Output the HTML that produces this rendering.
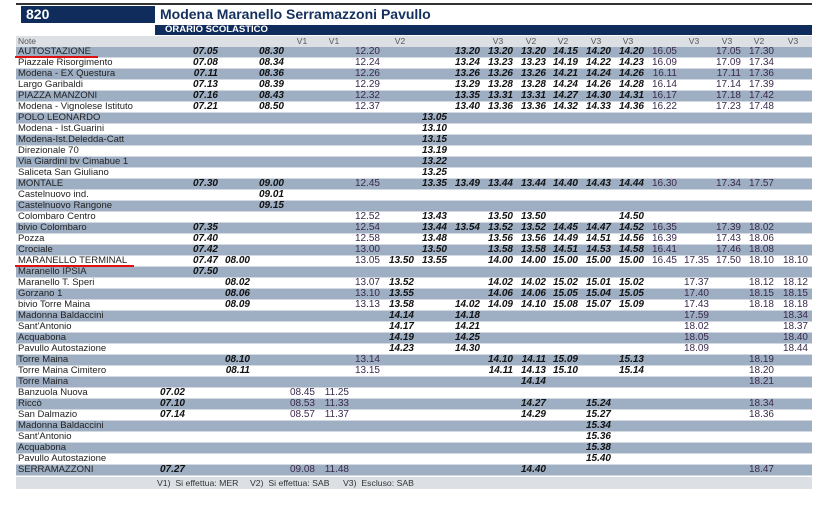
<!DOCTYPE html>
<html><head><meta charset="utf-8">
<style>
*{margin:0;padding:0;box-sizing:border-box}
html,body{width:820px;height:517px;background:#fff;overflow:hidden}
body{position:relative;font-family:"Liberation Sans",Arial,sans-serif}
.topline{position:absolute;left:16px;top:3px;width:796px;height:1.5px;background:#333}
.box{position:absolute;left:21px;top:6px;width:134px;height:17px;background:#0f2c5c;color:#fff;font-weight:bold;font-size:14px;line-height:17px;padding-left:5px}
.title{position:absolute;left:160px;top:4px;font-size:14px;font-weight:bold;color:#14305e;line-height:20px;white-space:nowrap}
.bar{position:absolute;left:155px;top:25px;width:657px;height:10px;background:#0f2c5c;color:#fff;font-weight:bold;font-size:9.5px;line-height:10px;padding-left:10px;white-space:nowrap}
.hdr{position:absolute;left:16px;top:36px;width:796px;height:10.5px;background:#dce0e5;font-size:8.5px;line-height:10.5px;color:#555}
.hdr span{position:absolute;top:0;width:20px;text-align:center}
.r{position:absolute;left:16px;width:796px;height:11px;border-bottom:1px solid #d3d9e1;font-size:10px;line-height:10.5px}
.s{background:#9eafc4}
.nm{position:absolute;left:2px;top:0;font-size:9.5px;color:#222;white-space:nowrap}
.r span.t{position:absolute;top:0;width:32px;text-align:right;white-space:nowrap}
.b{font-weight:bold;font-style:italic;color:#111}
.n{color:#3b2a4c}
.k0{left:137px}.k1{left:170px}.k2{left:202px}.k3{left:236px}.k4{left:267px}.k5{left:301px}
.k6{left:332px}.k7{left:366px}.k8{left:399px}.k9{left:432px}.k10{left:465px}.k11{left:498px}
.k12{left:530px}.k13{left:563px}.k14{left:596px}.k15{left:629px}.k16{left:661px}.k17{left:693px}
.k18{left:726px}.k19{left:760px}
.red{position:absolute;height:2px;background:#e01010}
.foot{position:absolute;left:16px;top:476.5px;width:796px;height:12.5px;background:#dce0e5;font-size:8.7px;line-height:12.5px;color:#333}
.foot span{position:absolute;top:0;white-space:nowrap}
</style></head><body>
<div class="topline"></div>
<div class="box">820</div>
<div class="title">Modena Maranello Serramazzoni Pavullo</div>
<div class="bar">ORARIO SCOLASTICO</div>
<div class="hdr"><span style="left:2px;width:auto;text-align:left">Note</span>
<span style="left:276px">V1</span><span style="left:308px">V1</span><span style="left:374px">V2</span><span style="left:472px">V3</span><span style="left:505px">V2</span><span style="left:537px">V2</span><span style="left:570px">V3</span><span style="left:602px">V3</span><span style="left:668px">V3</span><span style="left:701px">V3</span><span style="left:733px">V2</span><span style="left:767px">V3</span></div>

<div class="r s" style="top:46.5px"><span class="nm">AUTOSTAZIONE</span><span class="t b k1">07.05</span><span class="t b k3">08.30</span><span class="t n k6">12.20</span><span class="t b k9">13.20</span><span class="t b k10">13.20</span><span class="t b k11">13.20</span><span class="t b k12">14.15</span><span class="t b k13">14.20</span><span class="t b k14">14.20</span><span class="t n k15">16.05</span><span class="t n k17">17.05</span><span class="t n k18">17.30</span></div>
<div class="r" style="top:57.5px"><span class="nm">Piazzale Risorgimento</span><span class="t b k1">07.08</span><span class="t b k3">08.34</span><span class="t n k6">12.24</span><span class="t b k9">13.24</span><span class="t b k10">13.23</span><span class="t b k11">13.23</span><span class="t b k12">14.19</span><span class="t b k13">14.22</span><span class="t b k14">14.23</span><span class="t n k15">16.09</span><span class="t n k17">17.09</span><span class="t n k18">17.34</span></div>
<div class="r s" style="top:68.5px"><span class="nm">Modena - EX Questura</span><span class="t b k1">07.11</span><span class="t b k3">08.36</span><span class="t n k6">12.26</span><span class="t b k9">13.26</span><span class="t b k10">13.26</span><span class="t b k11">13.26</span><span class="t b k12">14.21</span><span class="t b k13">14.24</span><span class="t b k14">14.26</span><span class="t n k15">16.11</span><span class="t n k17">17.11</span><span class="t n k18">17.36</span></div>
<div class="r" style="top:79.5px"><span class="nm">Largo Garibaldi</span><span class="t b k1">07.13</span><span class="t b k3">08.39</span><span class="t n k6">12.29</span><span class="t b k9">13.29</span><span class="t b k10">13.28</span><span class="t b k11">13.28</span><span class="t b k12">14.24</span><span class="t b k13">14.26</span><span class="t b k14">14.28</span><span class="t n k15">16.14</span><span class="t n k17">17.14</span><span class="t n k18">17.39</span></div>
<div class="r s" style="top:90.5px"><span class="nm">PIAZZA MANZONI</span><span class="t b k1">07.16</span><span class="t b k3">08.43</span><span class="t n k6">12.32</span><span class="t b k9">13.35</span><span class="t b k10">13.31</span><span class="t b k11">13.31</span><span class="t b k12">14.27</span><span class="t b k13">14.30</span><span class="t b k14">14.31</span><span class="t n k15">16.17</span><span class="t n k17">17.18</span><span class="t n k18">17.42</span></div>
<div class="r" style="top:101.5px"><span class="nm">Modena - Vignolese Istituto</span><span class="t b k1">07.21</span><span class="t b k3">08.50</span><span class="t n k6">12.37</span><span class="t b k9">13.40</span><span class="t b k10">13.36</span><span class="t b k11">13.36</span><span class="t b k12">14.32</span><span class="t b k13">14.33</span><span class="t b k14">14.36</span><span class="t n k15">16.22</span><span class="t n k17">17.23</span><span class="t n k18">17.48</span></div>
<div class="r s" style="top:112.5px"><span class="nm">POLO LEONARDO</span><span class="t b k8">13.05</span></div>
<div class="r" style="top:123.5px"><span class="nm">Modena - Ist.Guarini</span><span class="t b k8">13.10</span></div>
<div class="r s" style="top:134.5px"><span class="nm">Modena-Ist.Deledda-Catt</span><span class="t b k8">13.15</span></div>
<div class="r" style="top:145.5px"><span class="nm">Direzionale 70</span><span class="t b k8">13.19</span></div>
<div class="r s" style="top:156.5px"><span class="nm">Via Giardini bv Cimabue 1</span><span class="t b k8">13.22</span></div>
<div class="r" style="top:167.5px"><span class="nm">Saliceta San Giuliano</span><span class="t b k8">13.25</span></div>
<div class="r s" style="top:178.5px"><span class="nm">MONTALE</span><span class="t b k1">07.30</span><span class="t b k3">09.00</span><span class="t n k6">12.45</span><span class="t b k8">13.35</span><span class="t b k9">13.49</span><span class="t b k10">13.44</span><span class="t b k11">13.44</span><span class="t b k12">14.40</span><span class="t b k13">14.43</span><span class="t b k14">14.44</span><span class="t n k15">16.30</span><span class="t n k17">17.34</span><span class="t n k18">17.57</span></div>
<div class="r" style="top:189.5px"><span class="nm">Castelnuovo ind.</span><span class="t b k3">09.01</span></div>
<div class="r s" style="top:200.5px"><span class="nm">Castelnuovo Rangone</span><span class="t b k3">09.15</span></div>
<div class="r" style="top:211.5px"><span class="nm">Colombaro Centro</span><span class="t n k6">12.52</span><span class="t b k8">13.43</span><span class="t b k10">13.50</span><span class="t b k11">13.50</span><span class="t b k14">14.50</span></div>
<div class="r s" style="top:222.5px"><span class="nm">bivio Colombaro</span><span class="t b k1">07.35</span><span class="t n k6">12.54</span><span class="t b k8">13.44</span><span class="t b k9">13.54</span><span class="t b k10">13.52</span><span class="t b k11">13.52</span><span class="t b k12">14.45</span><span class="t b k13">14.47</span><span class="t b k14">14.52</span><span class="t n k15">16.35</span><span class="t n k17">17.39</span><span class="t n k18">18.02</span></div>
<div class="r" style="top:233.5px"><span class="nm">Pozza</span><span class="t b k1">07.40</span><span class="t n k6">12.58</span><span class="t b k8">13.48</span><span class="t b k10">13.56</span><span class="t b k11">13.56</span><span class="t b k12">14.49</span><span class="t b k13">14.51</span><span class="t b k14">14.56</span><span class="t n k15">16.39</span><span class="t n k17">17.43</span><span class="t n k18">18.06</span></div>
<div class="r s" style="top:244.5px"><span class="nm">Crociale</span><span class="t b k1">07.42</span><span class="t n k6">13.00</span><span class="t b k8">13.50</span><span class="t b k10">13.58</span><span class="t b k11">13.58</span><span class="t b k12">14.51</span><span class="t b k13">14.53</span><span class="t b k14">14.58</span><span class="t n k15">16.41</span><span class="t n k17">17.46</span><span class="t n k18">18.08</span></div>
<div class="r" style="top:255.5px"><span class="nm">MARANELLO TERMINAL</span><span class="t b k1">07.47</span><span class="t b k2">08.00</span><span class="t n k6">13.05</span><span class="t b k7">13.50</span><span class="t b k8">13.55</span><span class="t b k10">14.00</span><span class="t b k11">14.00</span><span class="t b k12">15.00</span><span class="t b k13">15.00</span><span class="t b k14">15.00</span><span class="t n k15">16.45</span><span class="t n k16">17.35</span><span class="t n k17">17.50</span><span class="t n k18">18.10</span><span class="t n k19">18.10</span></div>
<div class="r s" style="top:266.5px"><span class="nm">Maranello IPSIA</span><span class="t b k1">07.50</span></div>
<div class="r" style="top:277.5px"><span class="nm">Maranello T. Speri</span><span class="t b k2">08.02</span><span class="t n k6">13.07</span><span class="t b k7">13.52</span><span class="t b k10">14.02</span><span class="t b k11">14.02</span><span class="t b k12">15.02</span><span class="t b k13">15.01</span><span class="t b k14">15.02</span><span class="t n k16">17.37</span><span class="t n k18">18.12</span><span class="t n k19">18.12</span></div>
<div class="r s" style="top:288.5px"><span class="nm">Gorzano 1</span><span class="t b k2">08.06</span><span class="t n k6">13.10</span><span class="t b k7">13.55</span><span class="t b k10">14.06</span><span class="t b k11">14.06</span><span class="t b k12">15.05</span><span class="t b k13">15.04</span><span class="t b k14">15.05</span><span class="t n k16">17.40</span><span class="t n k18">18.15</span><span class="t n k19">18.15</span></div>
<div class="r" style="top:299.5px"><span class="nm">bivio Torre Maina</span><span class="t b k2">08.09</span><span class="t n k6">13.13</span><span class="t b k7">13.58</span><span class="t b k9">14.02</span><span class="t b k10">14.09</span><span class="t b k11">14.10</span><span class="t b k12">15.08</span><span class="t b k13">15.07</span><span class="t b k14">15.09</span><span class="t n k16">17.43</span><span class="t n k18">18.18</span><span class="t n k19">18.18</span></div>
<div class="r s" style="top:310.5px"><span class="nm">Madonna Baldaccini</span><span class="t b k7">14.14</span><span class="t b k9">14.18</span><span class="t n k16">17.59</span><span class="t n k19">18.34</span></div>
<div class="r" style="top:321.5px"><span class="nm">Sant'Antonio</span><span class="t b k7">14.17</span><span class="t b k9">14.21</span><span class="t n k16">18.02</span><span class="t n k19">18.37</span></div>
<div class="r s" style="top:332.5px"><span class="nm">Acquabona</span><span class="t b k7">14.19</span><span class="t b k9">14.25</span><span class="t n k16">18.05</span><span class="t n k19">18.40</span></div>
<div class="r" style="top:343.5px"><span class="nm">Pavullo Autostazione</span><span class="t b k7">14.23</span><span class="t b k9">14.30</span><span class="t n k16">18.09</span><span class="t n k19">18.44</span></div>
<div class="r s" style="top:354.5px"><span class="nm">Torre Maina</span><span class="t b k2">08.10</span><span class="t n k6">13.14</span><span class="t b k10">14.10</span><span class="t b k11">14.11</span><span class="t b k12">15.09</span><span class="t b k14">15.13</span><span class="t n k18">18.19</span></div>
<div class="r" style="top:365.5px"><span class="nm">Torre Maina Cimitero</span><span class="t b k2">08.11</span><span class="t n k6">13.15</span><span class="t b k10">14.11</span><span class="t b k11">14.13</span><span class="t b k12">15.10</span><span class="t b k14">15.14</span><span class="t n k18">18.20</span></div>
<div class="r s" style="top:376.5px"><span class="nm">Torre Maina</span><span class="t b k11">14.14</span><span class="t n k18">18.21</span></div>
<div class="r" style="top:387.5px"><span class="nm">Banzuola Nuova</span><span class="t b k0">07.02</span><span class="t n k4">08.45</span><span class="t n k5">11.25</span></div>
<div class="r s" style="top:398.5px"><span class="nm">Riccò</span><span class="t b k0">07.10</span><span class="t n k4">08.53</span><span class="t n k5">11.33</span><span class="t b k11">14.27</span><span class="t b k13">15.24</span><span class="t n k18">18.34</span></div>
<div class="r" style="top:409.5px"><span class="nm">San Dalmazio</span><span class="t b k0">07.14</span><span class="t n k4">08.57</span><span class="t n k5">11.37</span><span class="t b k11">14.29</span><span class="t b k13">15.27</span><span class="t n k18">18.36</span></div>
<div class="r s" style="top:420.5px"><span class="nm">Madonna Baldaccini</span><span class="t b k13">15.34</span></div>
<div class="r" style="top:431.5px"><span class="nm">Sant'Antonio</span><span class="t b k13">15.36</span></div>
<div class="r s" style="top:442.5px"><span class="nm">Acquabona</span><span class="t b k13">15.38</span></div>
<div class="r" style="top:453.5px"><span class="nm">Pavullo Autostazione</span><span class="t b k13">15.40</span></div>
<div class="r s" style="top:464.5px"><span class="nm">SERRAMAZZONI</span><span class="t b k0">07.27</span><span class="t n k4">09.08</span><span class="t n k5">11.48</span><span class="t b k11">14.40</span><span class="t n k18">18.47</span></div>

<div class="foot"><span style="left:141px">V1)&nbsp; Si effettua: MER</span><span style="left:234px">V2)&nbsp; Si effettua: SAB</span><span style="left:327px">V3)&nbsp; Escluso: SAB</span></div>

<div class="red" style="left:15px;top:55.5px;width:83px"></div>
<div class="red" style="left:15px;top:265px;width:119px"></div>
</body></html>
